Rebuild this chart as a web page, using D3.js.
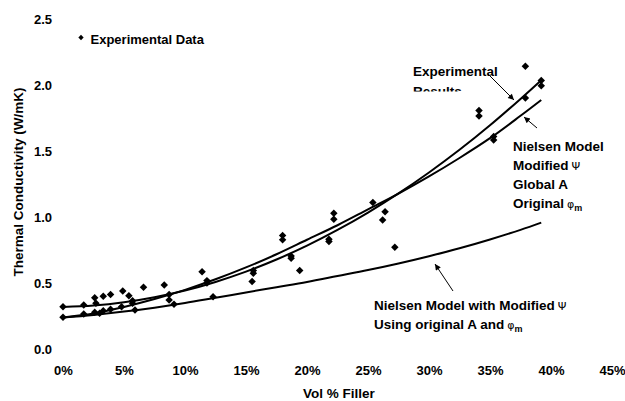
<!DOCTYPE html>
<html>
<head>
<meta charset="utf-8">
<script src="https://cdn.jsdelivr.net/npm/d3@7"></script>
<style>
  body { margin: 0; background: #fff; }
  svg { display: block; font-family: "Liberation Sans", Arial, Helvetica, sans-serif; }
</style>
</head>
<body>
<svg id="chart" width="625" height="401"></svg>
<script>
// Measured samples: filler content (vol %) and thermal conductivity (W/mK)
const dataVol = [0, 0, 1.7, 1.7, 2.6, 2.7, 2.6, 3.0, 3.3, 3.3, 3.9, 3.9, 4.9, 4.8, 5.4, 5.7, 5.7, 5.9,
                 6.6, 8.3, 8.7, 8.7, 9.1, 11.4, 11.8, 11.8, 12.3, 15.5, 15.6, 15.6, 18.0, 18.0,
                 18.7, 18.7, 19.4, 21.8, 21.8, 22.2, 22.2, 25.4, 26.4, 26.2, 27.2,
                 34.1, 34.1, 35.3, 35.3, 37.9, 37.9, 39.2, 39.2];
const dataK   = [0.322, 0.242, 0.335, 0.267, 0.391, 0.348, 0.280, 0.272, 0.401, 0.292, 0.414, 0.303, 0.442, 0.322, 0.406, 0.368, 0.348, 0.297,
                 0.470, 0.487, 0.414, 0.373, 0.341, 0.588, 0.520, 0.502, 0.398, 0.514, 0.596, 0.576, 0.863, 0.829,
                 0.707, 0.690, 0.597, 0.834, 0.816, 1.031, 0.986, 1.112, 1.043, 0.980, 0.773,
                 1.810, 1.769, 1.612, 1.587, 2.145, 1.904, 2.037, 1.997];

// Curves sampled along filler content (vol %)
const curveVol          = [0, 2.5, 5, 7.5, 10, 12.5, 15, 17.5, 20, 22.5, 25, 27.5, 30, 32.5, 35, 37.5, 39.2];
const fitExperimental   = [0.32, 0.331, 0.356, 0.394, 0.445, 0.51, 0.588, 0.68, 0.785, 0.904, 1.036, 1.181, 1.34, 1.512, 1.698, 1.898, 2.04];
const nielsenGlobalA    = [0.24, 0.27, 0.32, 0.38, 0.45, 0.53, 0.62, 0.72, 0.83, 0.94, 1.06, 1.18, 1.31, 1.45, 1.60, 1.77, 1.89];
const nielsenOriginalA  = [0.24, 0.26, 0.285, 0.315, 0.35, 0.39, 0.43, 0.47, 0.51, 0.555, 0.60, 0.65, 0.705, 0.765, 0.832, 0.905, 0.96];

const xTicks = [0, 5, 10, 15, 20, 25, 30, 35, 40, 45];
const yTicks = [0, 0.5, 1.0, 1.5, 2.0, 2.5];

const svg = d3.select("#chart");

const x = d3.scaleLinear().domain([0, 40]).range([63, 551]);
const y = d3.scaleLinear().domain([0, 2.5]).range([349.2, 19.5]);

// Axes: labels only, no axis lines or tick marks
const yAxis = svg.append("g")
  .attr("transform", `translate(${x(0)},0)`)
  .call(d3.axisLeft(y).tickValues(yTicks).tickSize(0).tickPadding(11).tickFormat(d3.format(".1f")));
const xAxis = svg.append("g")
  .attr("transform", `translate(0,${y(0)})`)
  .call(d3.axisBottom(x).tickValues(xTicks).tickSize(0).tickPadding(17).tickFormat(d => d + "%"));
[yAxis, xAxis].forEach(g => {
  g.select(".domain").remove();
  g.selectAll("text")
    .attr("fill", "#000")
    .style("font-family", "'Liberation Sans', Arial, sans-serif")
    .style("font-size", "13px")
    .style("font-weight", "bold");
});

// Axis titles
svg.append("text")
  .attr("x", 339).attr("y", 397.5)
  .attr("text-anchor", "middle")
  .style("font-size", "13.5px").style("font-weight", "bold")
  .text("Vol % Filler");
svg.append("text")
  .attr("transform", "translate(23,182) rotate(-90)")
  .attr("text-anchor", "middle")
  .style("font-size", "13.5px").style("font-weight", "bold")
  .text("Thermal Conductivity (W/mK)");

// Model curves
const line = d3.line()
  .x(d => x(d[0]))
  .y(d => y(d[1]))
  .curve(d3.curveCatmullRom.alpha(0.5));
[fitExperimental, nielsenGlobalA, nielsenOriginalA].forEach(vals => {
  svg.append("path")
    .datum(curveVol.map((v, i) => [v, vals[i]]))
    .attr("d", line)
    .attr("fill", "none")
    .attr("stroke", "#000")
    .attr("stroke-width", 2);
});

// Experimental data points (diamonds)
const diamond = d3.symbol().type(d3.symbolSquare).size(28);
svg.append("g").selectAll("path")
  .data(dataVol.map((v, i) => [v, dataK[i]]))
  .join("path")
  .attr("d", diamond)
  .attr("transform", d => `translate(${x(d[0])},${y(d[1])}) rotate(45)`)
  .attr("fill", "#000");

// Legend
svg.append("path")
  .attr("d", d3.symbol().type(d3.symbolSquare).size(14))
  .attr("transform", "translate(81,37.5) rotate(45)")
  .attr("fill", "#000");
svg.append("text")
  .attr("x", 90.5).attr("y", 43.5)
  .style("font-size", "13px").style("font-weight", "bold")
  .text("Experimental Data");

// Arrowhead marker
svg.append("defs").append("marker")
  .attr("id", "arrow")
  .attr("viewBox", "0 0 10 10")
  .attr("refX", 10).attr("refY", 5)
  .attr("markerWidth", 8).attr("markerHeight", 6)
  .attr("markerUnits", "userSpaceOnUse")
  .attr("orient", "auto")
  .append("path")
  .attr("d", "M0,0 L10,5 L0,10 Z")
  .attr("fill", "#000");

const arrows = [
  [488, 74, 514, 100],
  [537, 128, 524, 117],
  [453, 291, 435, 264]
];
svg.append("g").selectAll("line")
  .data(arrows)
  .join("line")
  .attr("x1", d => d[0]).attr("y1", d => d[1])
  .attr("x2", d => d[2]).attr("y2", d => d[3])
  .attr("stroke", "#000").attr("stroke-width", 1)
  .attr("marker-end", "url(#arrow)");

// Annotation labels
const labelStyle = sel => sel.style("font-size", "13.5px").style("font-weight", "bold");

svg.append("clipPath").attr("id", "resultsClip")
  .append("rect").attr("x", 400).attr("y", 55).attr("width", 120).attr("height", 36.5);
const expLabel = svg.append("g").attr("clip-path", "url(#resultsClip)");
expLabel.append("text").attr("x", 413).attr("y", 76).call(labelStyle).text("Experimental");
expLabel.append("text").attr("x", 413).attr("y", 95.5).call(labelStyle).text("Results");

function greek(t, ch, sub) {
  t.append("tspan").style("font-weight", "normal").style("font-size", "11px")
    .style("font-family", "'DejaVu Sans', sans-serif").attr("dx", 3).text(ch);
  if (sub) t.append("tspan").attr("dy", 3).style("font-size", "9px").text(sub);
}

svg.append("text").attr("x", 513).attr("y", 150.5).call(labelStyle).text("Nielsen Model");
greek(svg.append("text").attr("x", 513).attr("y", 169.5).call(labelStyle).text("Modified"), "\u03A8");
svg.append("text").attr("x", 513).attr("y", 188.5).call(labelStyle).text("Global A");
greek(svg.append("text").attr("x", 513).attr("y", 207.5).call(labelStyle).text("Original"), "\u03C6", "m");

greek(svg.append("text").attr("x", 374).attr("y", 309.5).call(labelStyle).text("Nielsen Model with Modified"), "\u03A8");
greek(svg.append("text").attr("x", 374).attr("y", 328.5).call(labelStyle).text("Using original A and"), "\u03C6", "m");
</script>
</body>
</html>
